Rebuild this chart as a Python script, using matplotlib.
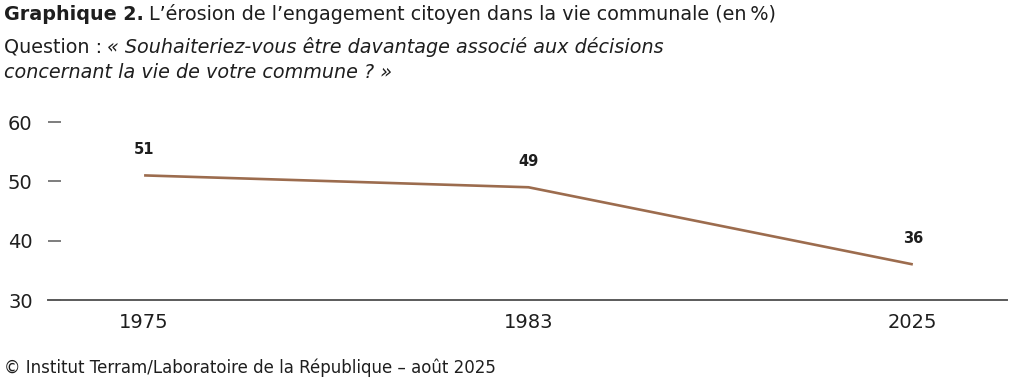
import matplotlib.pyplot as plt

plt.rcParams['font.family'] = ['DejaVu Sans']

years = ['1975', '1983', '2025']
values = [51, 49, 36]
labels = ['51', '49', '36']
yticks = [30, 40, 50, 60]

line_color = '#9c6c4e'
text_color = '#1e1e1e'
axis_color = '#5a5a5a'

fig = plt.figure(figsize=(10.24, 3.81), dpi=100)
ax = fig.add_axes([48 / 1024, 1 - 300 / 381, 959 / 1024, 178 / 381])

x = list(range(len(years)))
ax.plot(x, values, color=line_color, lw=1.9, solid_capstyle='butt')

for xi, v, lab in zip(x, values, labels):
    ax.annotate(lab, (xi, v), xytext=(0, 13), textcoords='offset points',
                ha='center', va='bottom', fontsize=10.5, fontweight='bold',
                color=text_color)

ax.set_xlim(-0.25, 2.245)
ax.set_ylim(30, 60)
ax.set_xticks(x)
ax.set_xticklabels(years)
ax.set_yticks(yticks)

for s in ['top', 'right', 'left']:
    ax.spines[s].set_visible(False)
ax.spines['bottom'].set_color(axis_color)
ax.spines['bottom'].set_linewidth(1.4)

ax.tick_params(axis='y', direction='in', length=9, width=1.1, color=axis_color,
               pad=11, labelsize=14, labelcolor=text_color)
ax.tick_params(axis='x', length=0, pad=9, labelsize=14, labelcolor=text_color)

# titles with mixed weights
fig.canvas.draw()
r = fig.canvas.get_renderer()

t1 = fig.text(4 / 1024, 1 - 14 / 381, 'Graphique 2.', fontsize=13.8,
              fontweight='bold', va='center', color=text_color)
w1 = t1.get_window_extent(r)
fig.text((w1.x1 + 5) / 1024, 1 - 14 / 381,
         'L\u2019érosion de l\u2019engagement citoyen dans la vie communale (en\u2009%)',
         fontsize=13.8, va='center', color=text_color)

q = fig.text(4 / 1024, 1 - 47 / 381, 'Question :', fontsize=13.8,
             va='center', color=text_color)
wq = q.get_window_extent(r)
fig.text((wq.x1 + 5) / 1024, 1 - 47 / 381,
         '« Souhaiteriez-vous être davantage associé aux décisions',
         fontsize=13.8, style='italic', va='center', color=text_color)
fig.text(4 / 1024, 1 - 72 / 381, 'concernant la vie de votre commune ? »',
         fontsize=13.8, style='italic', va='center', color=text_color)

fig.text(4 / 1024, 1 - 368 / 381,
         '© Institut Terram/Laboratoire de la République – août 2025',
         fontsize=12, va='center', color=text_color)

fig.savefig('out.png', dpi=100)
